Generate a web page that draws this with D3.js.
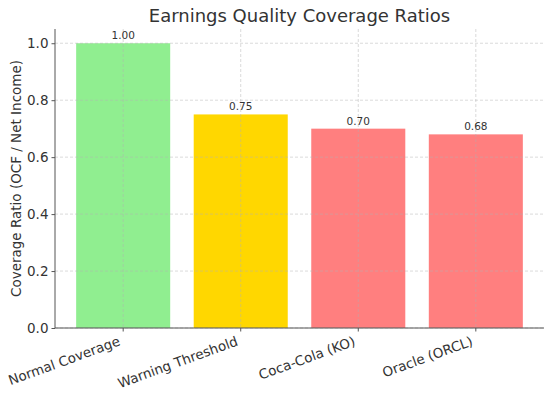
<!DOCTYPE html>
<html>
<head>
<meta charset="utf-8">
<script src="https://cdn.jsdelivr.net/npm/d3@7"></script>
<style>
  body { margin: 0; background: #fff; }
  text { font-family: "DejaVu Sans", sans-serif; }
</style>
</head>
<body>
<div id="chart"></div>
<script>
const categories = ["Normal Coverage", "Warning Threshold", "Coca-Cola (KO)", "Oracle (ORCL)"]
const ratios = [1.00, 0.75, 0.70, 0.68]
const barColors = ["#90ee90", "#ffd700", "#ff7f7f", "#ff7f7f"]
const yTicks = [0.0, 0.2, 0.4, 0.6, 0.8, 1.0]

const svgWidth = 552
const svgHeight = 397
const margin = { top: 29, right: 8, bottom: 69, left: 55 }
const chartWidth = svgWidth - margin.left - margin.right
const chartHeight = svgHeight - margin.top - margin.bottom

const svg = d3.select("#chart").append("svg")
    .attr("width", svgWidth)
    .attr("height", svgHeight)

const chartG = svg.append("g")
    .attr("transform", `translate(${margin.left}, ${margin.top})`)

const x = d3.scaleBand()
    .domain(categories)
    .range([0, chartWidth])
    .paddingInner(0.2)
    .paddingOuter(0.18)

const y = d3.scaleLinear()
    .domain([0, 1.05])
    .range([chartHeight, 0])

// bars
chartG.selectAll("rect.bar")
    .data(categories)
    .enter()
    .append("rect")
    .attr("class", "bar")
    .attr("x", d => x(d))
    .attr("width", x.bandwidth())
    .attr("y", (d, i) => y(ratios[i]))
    .attr("height", (d, i) => chartHeight - y(ratios[i]))
    .attr("fill", (d, i) => barColors[i])

// grid (drawn over bars, faint)
const gridG = chartG.append("g")
gridG.selectAll("line.h")
    .data(yTicks)
    .enter()
    .append("line")
    .attr("x1", 0)
    .attr("x2", chartWidth)
    .attr("y1", d => y(d))
    .attr("y2", d => y(d))
gridG.selectAll("line.v")
    .data(categories)
    .enter()
    .append("line")
    .attr("x1", d => x(d) + x.bandwidth() / 2)
    .attr("x2", d => x(d) + x.bandwidth() / 2)
    .attr("y1", 0)
    .attr("y2", chartHeight)
gridG.selectAll("line")
    .attr("stroke", "#b0b0b0")
    .attr("stroke-opacity", 0.6)
    .attr("stroke-width", 0.8)
    .attr("stroke-dasharray", "3,2")

// value labels
chartG.selectAll("text.val")
    .data(categories)
    .enter()
    .append("text")
    .attr("x", d => x(d) + x.bandwidth() / 2)
    .attr("y", (d, i) => y(ratios[i]) - 4)
    .attr("text-anchor", "middle")
    .attr("font-size", 10.5)
    .attr("fill", "#333")
    .text((d, i) => ratios[i].toFixed(2))

// axes
const yAxis = d3.axisLeft(y)
    .tickValues(yTicks)
    .tickFormat(d3.format(".1f"))
    .tickSize(3.5)
    .tickPadding(3)
const xAxis = d3.axisBottom(x)
    .tickSize(3.5)

const yAxisG = chartG.append("g").call(yAxis)
const xAxisG = chartG.append("g")
    .attr("transform", `translate(0, ${chartHeight})`)
    .call(xAxis)

yAxisG.select(".domain").attr("d", `M0,0V${chartHeight}`)
xAxisG.select(".domain").attr("d", `M0,0H${chartWidth}`)

svg.selectAll(".domain").attr("stroke", "#555").attr("stroke-width", 1)
svg.selectAll(".tick line").attr("stroke", "#555")
yAxisG.selectAll(".tick text")
    .attr("font-size", 13.5)
    .attr("fill", "#333")
    .attr("font-family", "DejaVu Sans, sans-serif")
xAxisG.selectAll(".tick text")
    .attr("font-size", 13.5)
    .attr("fill", "#333")
    .attr("font-family", "DejaVu Sans, sans-serif")
    .attr("text-anchor", "end")
    .attr("y", 0)
    .attr("dy", 0)
    .attr("transform", "translate(-2, 17) rotate(-20)")

// title and y label
svg.append("text")
    .attr("x", margin.left + chartWidth / 2)
    .attr("y", 22)
    .attr("text-anchor", "middle")
    .attr("font-size", 18)
    .attr("fill", "#333")
    .text("Earnings Quality Coverage Ratios")

svg.append("text")
    .attr("transform", `translate(21, ${margin.top + chartHeight / 2}) rotate(-90)`)
    .attr("text-anchor", "middle")
    .attr("font-size", 13.5)
    .attr("fill", "#333")
    .text("Coverage Ratio (OCF / Net Income)")
</script>
</body>
</html>
